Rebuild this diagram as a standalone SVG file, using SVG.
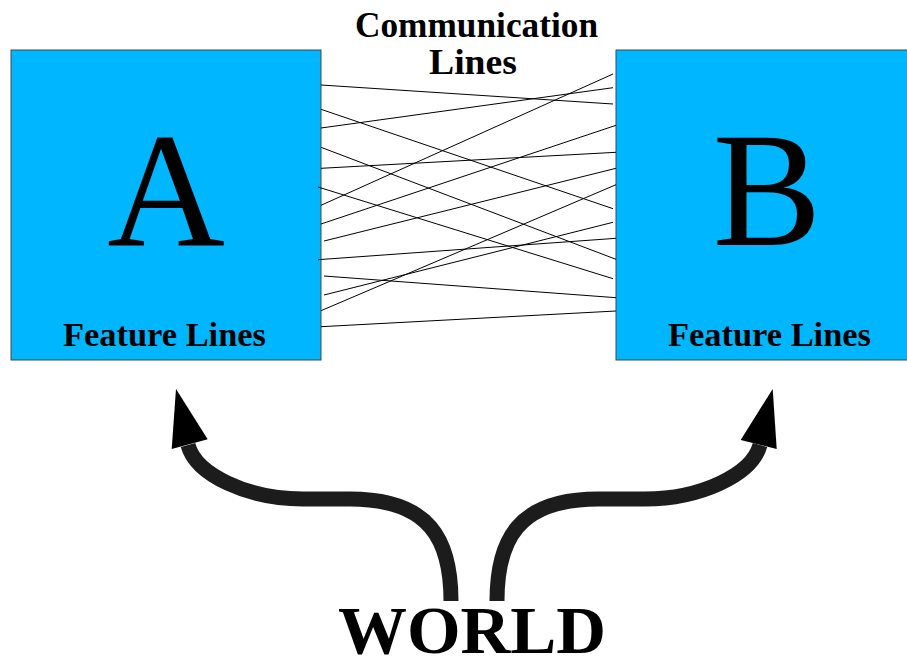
<svg xmlns="http://www.w3.org/2000/svg" width="907" height="668" viewBox="0 0 907 668">
<style>
.box{fill:#00b6fe;stroke:#3a4a55;stroke-width:1}
.t{font-family:"Liberation Serif","Times New Roman",serif;font-weight:bold;fill:#000;text-anchor:middle}
.big{font-family:"Liberation Serif","Times New Roman",serif;font-weight:normal;fill:#000;text-anchor:middle;font-size:163px}
.cl{stroke:#000;stroke-width:1;fill:none}
.shaft{fill:none;stroke:#1c1c1c;stroke-width:15}
.head{fill:#000}
</style>
<rect width="907" height="668" fill="#fff"/>
<g id="titleLabel">
<text class="t" x="476.5" y="37" font-size="35" textLength="243" lengthAdjust="spacingAndGlyphs">Communication</text>
<text class="t" x="473" y="74" font-size="35" textLength="88" lengthAdjust="spacingAndGlyphs">Lines</text>
</g>
<g id="nodeA">
<rect class="box" x="11" y="50" width="310" height="310"/>
<text class="big" x="166" y="245">A</text>
<text class="t" x="164.5" y="346" font-size="34" textLength="203" lengthAdjust="spacingAndGlyphs">Feature Lines</text>
</g>
<g id="nodeB">
<rect class="box" x="616" y="50" width="310" height="310"/>
<text class="big" x="767" y="245">B</text>
<text class="t" x="769.5" y="346" font-size="34" textLength="203" lengthAdjust="spacingAndGlyphs">Feature Lines</text>
</g>
<g id="connectors">
<line class="cl" x1="321" y1="85" x2="613" y2="104"/>
<line class="cl" x1="321" y1="109.3" x2="613" y2="208.7"/>
<line class="cl" x1="321" y1="128" x2="613" y2="87.7"/>
<line class="cl" x1="321" y1="147.3" x2="616" y2="259.3"/>
<line class="cl" x1="321" y1="168.3" x2="616" y2="152.3"/>
<line class="cl" x1="318" y1="187" x2="613" y2="278.7"/>
<line class="cl" x1="321" y1="205.3" x2="613" y2="74"/>
<line class="cl" x1="321" y1="224" x2="616" y2="125.3"/>
<line class="cl" x1="324" y1="241" x2="616" y2="168.3"/>
<line class="cl" x1="318" y1="259.7" x2="616" y2="238.3"/>
<line class="cl" x1="324" y1="276" x2="616" y2="297.7"/>
<line class="cl" x1="324" y1="295" x2="613" y2="222.3"/>
<line class="cl" x1="321" y1="310.7" x2="616" y2="184.7"/>
<line class="cl" x1="321" y1="326.7" x2="616" y2="311"/>
</g>
<g id="arrows">
<path class="shaft" d="M 451 601 C 451 540 430 499 350 499 L 303 499 C 248 499 196 475 188 445"/>
<polygon class="head" points="176,389 171.7,449 207.7,439.3"/>
<path class="shaft" d="M 497 601 C 497 540 518 499 598 499 L 645 499 C 700 499 752 475 760 445"/>
<polygon class="head" points="772.7,389 740.7,440 776.7,449"/>
</g>
<g id="world">
<text class="t" x="472" y="653" font-size="68" textLength="268" lengthAdjust="spacingAndGlyphs">WORLD</text>
</g>
</svg>
